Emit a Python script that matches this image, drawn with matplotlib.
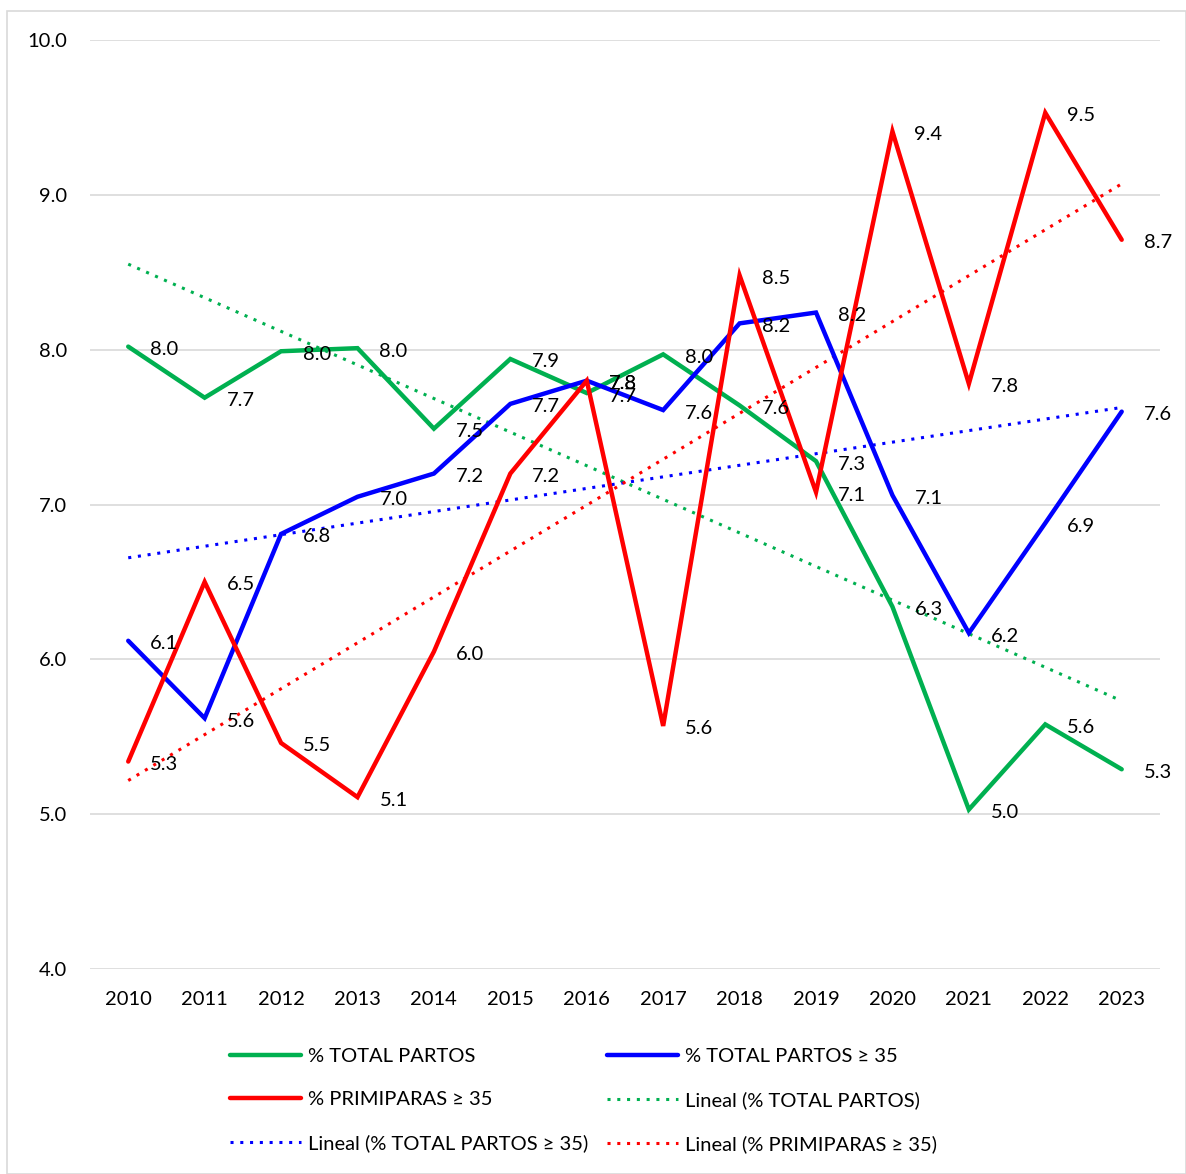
import numpy as np
import matplotlib.pyplot as plt
from matplotlib.patches import Rectangle
from matplotlib.transforms import offset_copy

plt.rcParams['font.family'] = ['Lato', 'DejaVu Sans']
plt.rcParams['font.size'] = 14.5

years = ['2010', '2011', '2012', '2013', '2014', '2015', '2016',
         '2017', '2018', '2019', '2020', '2021', '2022', '2023']
total_partos = [8.02, 7.69, 7.99, 8.01, 7.49, 7.94, 7.72, 7.97, 7.64, 7.28, 6.34, 5.03, 5.58, 5.29]
total_35 = [6.12, 5.62, 6.81, 7.05, 7.20, 7.65, 7.80, 7.61, 8.17, 8.24, 7.06, 6.17, 6.88, 7.60]
primiparas_35 = [5.34, 6.50, 5.46, 5.11, 6.05, 7.20, 7.80, 5.57, 8.48, 7.08, 9.41, 7.78, 9.53, 8.71]

GREEN = '#00B050'
BLUE = '#0000FF'
RED = '#FF0000'

fig = plt.figure(figsize=(11.86, 11.74), dpi=100)
ax = fig.add_axes([0.0759, 0.1746, 0.9021, 0.7913])
fig.patches.append(Rectangle((0.006, 0.0), 0.994, 0.9906, transform=fig.transFigure,
                             fill=False, edgecolor='#D9D9D9', linewidth=1.2))

x = np.arange(len(years))

series = [
    (total_partos, GREEN, '% TOTAL PARTOS'),
    (total_35, BLUE, '% TOTAL PARTOS ≥ 35'),
    (primiparas_35, RED, '% PRIMIPARAS ≥ 35'),
]

main = []
trend = []
for vals, col, name in series:
    l, = ax.plot(x, vals, color=col, linewidth=3.2, solid_capstyle='round',
                 solid_joinstyle='miter', label=name, zorder=3)
    main.append(l)
    # linea de tendencia lineal (como Excel)
    m, b = np.polyfit(x, vals, 1)
    t, = ax.plot(x, m * x + b, color=col, linewidth=2.2, linestyle=(0, (1, 2.2)),
                 label='Lineal (' + name + ')', zorder=2)
    trend.append(t)

# etiquetas de datos a la derecha de cada punto
tr = offset_copy(ax.transData, fig=fig, x=22, y=-3, units='dots')
for vals, col, name in series:
    for xi, v in zip(x, vals):
        ax.text(xi, v, f'{v:.1f}', transform=tr, ha='left', va='center',
                fontsize=14.5, color='black', zorder=4)

ax.set_xlim(-0.5, len(years) - 0.5)
ax.set_ylim(4.0, 10.0)
ax.set_yticks(np.arange(4.0, 10.01, 1.0))
ax.set_yticklabels([f'{v:.1f}' for v in np.arange(4.0, 10.01, 1.0)])
ax.set_xticks(x)
ax.set_xticklabels(years)
ax.tick_params(length=0, labelsize=14.5, pad=16)
ax.tick_params(axis='y', pad=16.5)
ax.grid(axis='y', color='#D9D9D9', linewidth=1.2)
ax.set_axisbelow(True)
for s in ax.spines.values():
    s.set_visible(False)

handles = [main[0], main[2], trend[1], main[1], trend[0], trend[2]]
fig.legend(handles=handles, labels=[h.get_label() for h in handles],
           ncol=2, loc='upper left', bbox_to_anchor=(0.179, 0.123),
           frameon=False, fontsize=14.5, handlelength=3.5, handletextpad=0.35,
           columnspacing=0.95, labelspacing=1.3)

fig.savefig('out.png', dpi=100)
